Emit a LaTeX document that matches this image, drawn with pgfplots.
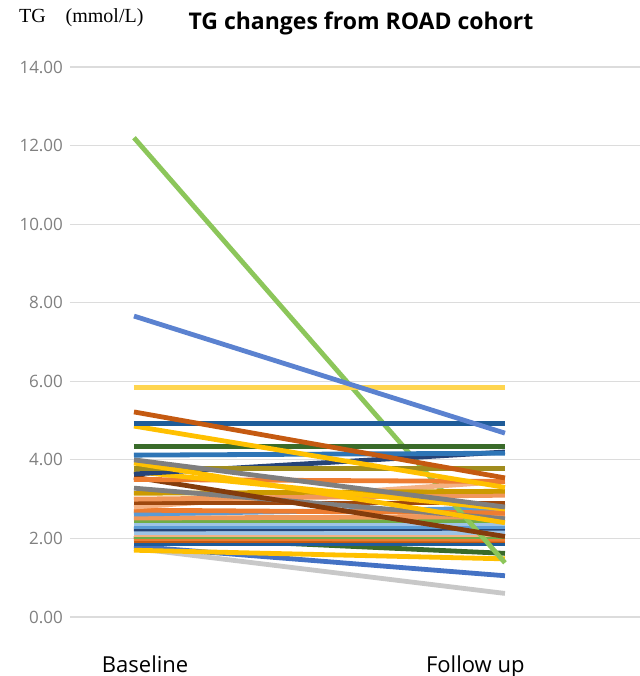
\documentclass[border=0pt]{standalone}
\usepackage{pgfplots}
\pgfplotsset{compat=1.18}
\usepackage{fontspec}
\setmainfont{Open Sans}
\newfontfamily\serifTG{Liberation Serif}

\definecolor{cBlue}{HTML}{4472C4}
\definecolor{cBlueA}{HTML}{5B82D0}
\definecolor{cOrange}{HTML}{ED7D31}
\definecolor{cLOrange}{HTML}{F1975A}
\definecolor{cGray}{HTML}{7F7F7F}
\definecolor{cSilver}{HTML}{C8C8C8}
\definecolor{cGold}{HTML}{FFC000}
\definecolor{cPale}{HTML}{FFD54F}
\definecolor{cDGold}{HTML}{CC9A00}
\definecolor{cOlive}{HTML}{A08C1E}
\definecolor{cLBlue}{HTML}{5B9BD5}
\definecolor{cSky}{HTML}{9DC3E6}
\definecolor{cMid}{HTML}{2E75B6}
\definecolor{cSteel}{HTML}{1F5C99}
\definecolor{cNavy}{HTML}{264478}
\definecolor{cGreen}{HTML}{70AD47}
\definecolor{cDGreen}{HTML}{3A6B2A}
\definecolor{cLime}{HTML}{8CC65A}
\definecolor{cBrown}{HTML}{9E480E}
\definecolor{cDBrown}{HTML}{843C0C}
\definecolor{cRust}{HTML}{C55A11}
\definecolor{cSalmon}{HTML}{F4B183}
\definecolor{cGrid}{HTML}{DCDCDC}
\definecolor{cTick}{HTML}{808080}

\begin{document}
\begin{tikzpicture}
\begin{axis}[
    name=main,
    scale only axis,
    width=285pt, height=275pt,
    xmin=-0.1725, xmax=1.364,
    ymin=0, ymax=14,
    ytick={0,2,...,14},
    yticklabel style={
        /pgf/number format/fixed,
        /pgf/number format/fixed zerofill,
        /pgf/number format/precision=2,
        /pgf/number format/assume math mode=true,
        font=\fontsize{8.5}{10}\selectfont, text=cTick},
    xtick={0.03,0.92},
    xticklabels={Baseline, Follow up},
    xticklabel style={font=\fontsize{11}{13}\selectfont, yshift=-16pt},
    ymajorgrids,
    grid style={cGrid, line width=0.6pt},
    axis line style={draw=none},
    major tick length=0pt,
    title={\bfseries TG changes from ROAD cohort},
    title style={font=\fontsize{11.5}{13}\selectfont, yshift=6.5pt, xshift=3pt},
    every axis plot/.append style={line width=2.4pt},
    clip=false,
]
% lower band
\addplot[cSilver]  coordinates {(0,1.75) (1,0.60)};
\addplot[cBlue]    coordinates {(0,1.80) (1,1.05)};
\addplot[cGold]    coordinates {(0,1.70) (1,1.48)};
\addplot[cDGreen]  coordinates {(0,2.05) (1,1.62)};
\addplot[cSteel]   coordinates {(0,1.88) (1,1.88)};
\addplot[cRust]    coordinates {(0,1.95) (1,1.95)};
\addplot[cOrange]  coordinates {(0,2.00) (1,1.98)};
\addplot[cGreen]   coordinates {(0,2.05) (1,2.05)};
\addplot[cSalmon]  coordinates {(0,2.10) (1,2.10)};
\addplot[cSky]     coordinates {(0,2.16) (1,2.16)};
\addplot[cNavy]    coordinates {(0,2.24) (1,2.26)};
\addplot[cLBlue]   coordinates {(0,2.30) (1,2.30)};
\addplot[cSky]     coordinates {(0,2.39) (1,2.39)};
\addplot[cGreen]   coordinates {(0,2.45) (1,2.45)};
\addplot[cLOrange] coordinates {(0,2.52) (1,2.55)};
\addplot[cLBlue]   coordinates {(0,2.62) (1,2.77)};
\addplot[cOrange]  coordinates {(0,2.72) (1,2.65)};
% big drop
\addplot[cLime]    coordinates {(0,12.20) (1,1.38)};
% middle band
\addplot[cSalmon]  coordinates {(0,2.80) (1,3.45)};
\addplot[cBrown]   coordinates {(0,2.90) (1,2.90)};
\addplot[cLOrange] coordinates {(0,3.00) (1,3.10)};
\addplot[cDGold]   coordinates {(0,3.15) (1,3.20)};
\addplot[cGray]    coordinates {(0,3.28) (1,2.50)};
\addplot[cDBrown]  coordinates {(0,3.56) (1,2.05)};
\addplot[cOrange]  coordinates {(0,3.50) (1,3.45)};
\addplot[cGold]    coordinates {(0,3.70) (1,2.75)};
\addplot[cNavy]    coordinates {(0,3.64) (1,4.20)};
\addplot[cOlive]   coordinates {(0,3.79) (1,3.79)};
\addplot[cGold]    coordinates {(0,3.92) (1,2.40)};
\addplot[cGray]    coordinates {(0,4.00) (1,2.80)};
\addplot[cMid]     coordinates {(0,4.12) (1,4.17)};
\addplot[cDGreen]  coordinates {(0,4.33) (1,4.33)};
% upper lines
\addplot[cGold]    coordinates {(0,4.86) (1,3.30)};
\addplot[cSteel]   coordinates {(0,4.93) (1,4.93)};
\addplot[cRust]    coordinates {(0,5.22) (1,3.54)};
\addplot[cPale]    coordinates {(0,5.85) (1,5.85)};
\addplot[cBlueA]   coordinates {(0,7.66) (1,4.68)};

\node[anchor=west, font=\serifTG\fontsize{10}{12}\selectfont]
    at ([xshift=-29pt, yshift=24.5pt]rel axis cs:0,1) {TG\quad(mmol/L)};
\end{axis}
\pgfresetboundingbox
\path[use as bounding box] ([xshift=-35pt, yshift=-29.5pt]main.south west)
    rectangle ([yshift=33.5pt]main.north east);
\end{tikzpicture}
\end{document}
